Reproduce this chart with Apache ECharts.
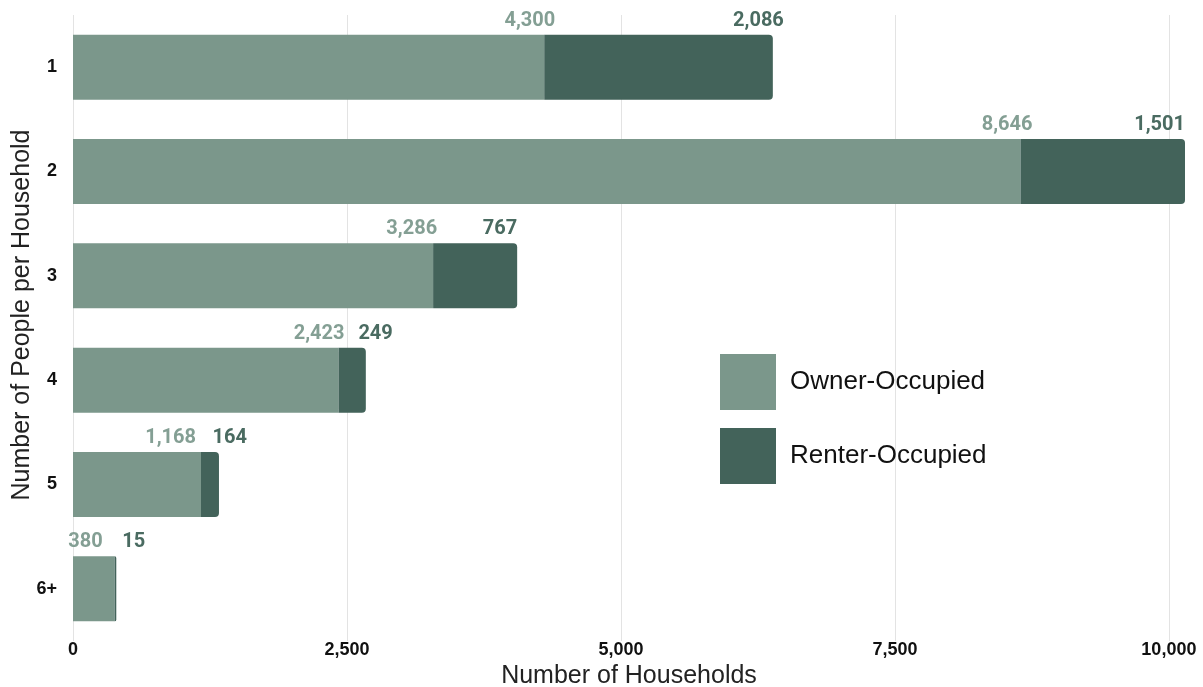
<!DOCTYPE html>
<html>
<head>
<meta charset="utf-8">
<script src="https://cdn.jsdelivr.net/npm/echarts@6/dist/echarts.min.js"></script>
<style>
  html, body { margin: 0; padding: 0; background: #fff; }
  #main { width: 1203px; height: 687px; }
</style>
</head>
<body>
<div id="main"></div>
<script>
// household size categories, top to bottom
const categories = ['1', '2', '3', '4', '5', '6+'];
const ownerValues = [4300, 8646, 3286, 2423, 1168, 380];
const renterValues = [2086, 1501, 767, 249, 164, 15];
const xTicks = [0, 2500, 5000, 7500, 10000];

// label nudges (px) so labels don't collide
const ownerNudge = [11, 12, 4, 6, -5, -12];
const renterNudge = [11, 0, 0, 27, 28, 29];

const ownerColor = '#7b978b';
const renterColor = '#43635a';
const ARIAL = "'Liberation Sans', Arial, sans-serif";
const fmt = v => v.toLocaleString('en-US');

function withLabels(values, nudge) {
  return values.map((v, i) => ({
    value: v,
    label: { offset: [nudge[i], -4] }
  }));
}

const myChart = echarts.init(document.getElementById('main'));
const option = {
  animation: false,
  grid: { left: 73, right: 18, top: 15, bottom: 46, outerBoundsMode: 'none', containLabel: false },
  legend: {
    orient: 'vertical',
    left: 720,
    top: 354,
    padding: 0,
    itemWidth: 56,
    itemHeight: 56,
    itemGap: 18,
    icon: 'rect',
    data: ['Owner-Occupied', 'Renter-Occupied'],
    textStyle: { fontFamily: ARIAL, fontSize: 26, color: '#111', padding: [0, 0, 0, 9] }
  },
  xAxis: {
    type: 'value',
    min: 0,
    max: 'dataMax',
    interval: 2500,
    name: 'Number of Households',
    nameLocation: 'middle',
    nameGap: 22,
    nameTextStyle: { fontFamily: ARIAL, fontSize: 25, color: '#222' },
    axisLine: { show: false },
    axisTick: { show: false },
    axisLabel: {
      margin: 0,
      showMaxLabel: false,
      fontFamily: ARIAL,
      fontSize: 18,
      fontWeight: 'bold',
      color: '#111',
      formatter: v => xTicks.includes(v) ? fmt(v) : ''
    },
    splitLine: { show: true, showMaxLine: false, lineStyle: { color: '#e3e3e3', width: 1 } }
  },
  yAxis: {
    type: 'category',
    inverse: true,
    data: categories,
    name: 'Number of People per Household',
    nameLocation: 'middle',
    nameMoveOverlap: false,
    nameGap: 38,
    nameTextStyle: { fontFamily: ARIAL, fontSize: 25, color: '#222', padding: [0, 0, 0, 26] },
    axisLine: { show: false },
    axisTick: { show: false },
    axisLabel: {
      margin: 16,
      fontFamily: ARIAL,
      fontSize: 18,
      fontWeight: 'bold',
      color: '#111'
    }
  },
  series: [
    {
      name: 'Owner-Occupied',
      type: 'bar',
      stack: 'total',
      barWidth: 65,
      itemStyle: { color: ownerColor },
      data: withLabels(ownerValues, ownerNudge),
      label: {
        show: true,
        position: ['100%', 0],
        align: 'right',
        verticalAlign: 'bottom',
        fontFamily: 'Roboto',
        fontSize: 20,
        fontWeight: 'bold',
        color: '#849f94',
        formatter: p => fmt(p.value)
      }
    },
    {
      name: 'Renter-Occupied',
      type: 'bar',
      stack: 'total',
      barWidth: 65,
      itemStyle: { color: renterColor, borderRadius: [0, 4, 4, 0] },
      data: withLabels(renterValues, renterNudge),
      label: {
        show: true,
        position: ['100%', 0],
        align: 'right',
        verticalAlign: 'bottom',
        fontFamily: 'Roboto',
        fontSize: 20,
        fontWeight: 'bold',
        color: '#4a6b61',
        formatter: p => fmt(p.value)
      }
    }
  ]
};
myChart.setOption(option);
</script>
</body>
</html>
